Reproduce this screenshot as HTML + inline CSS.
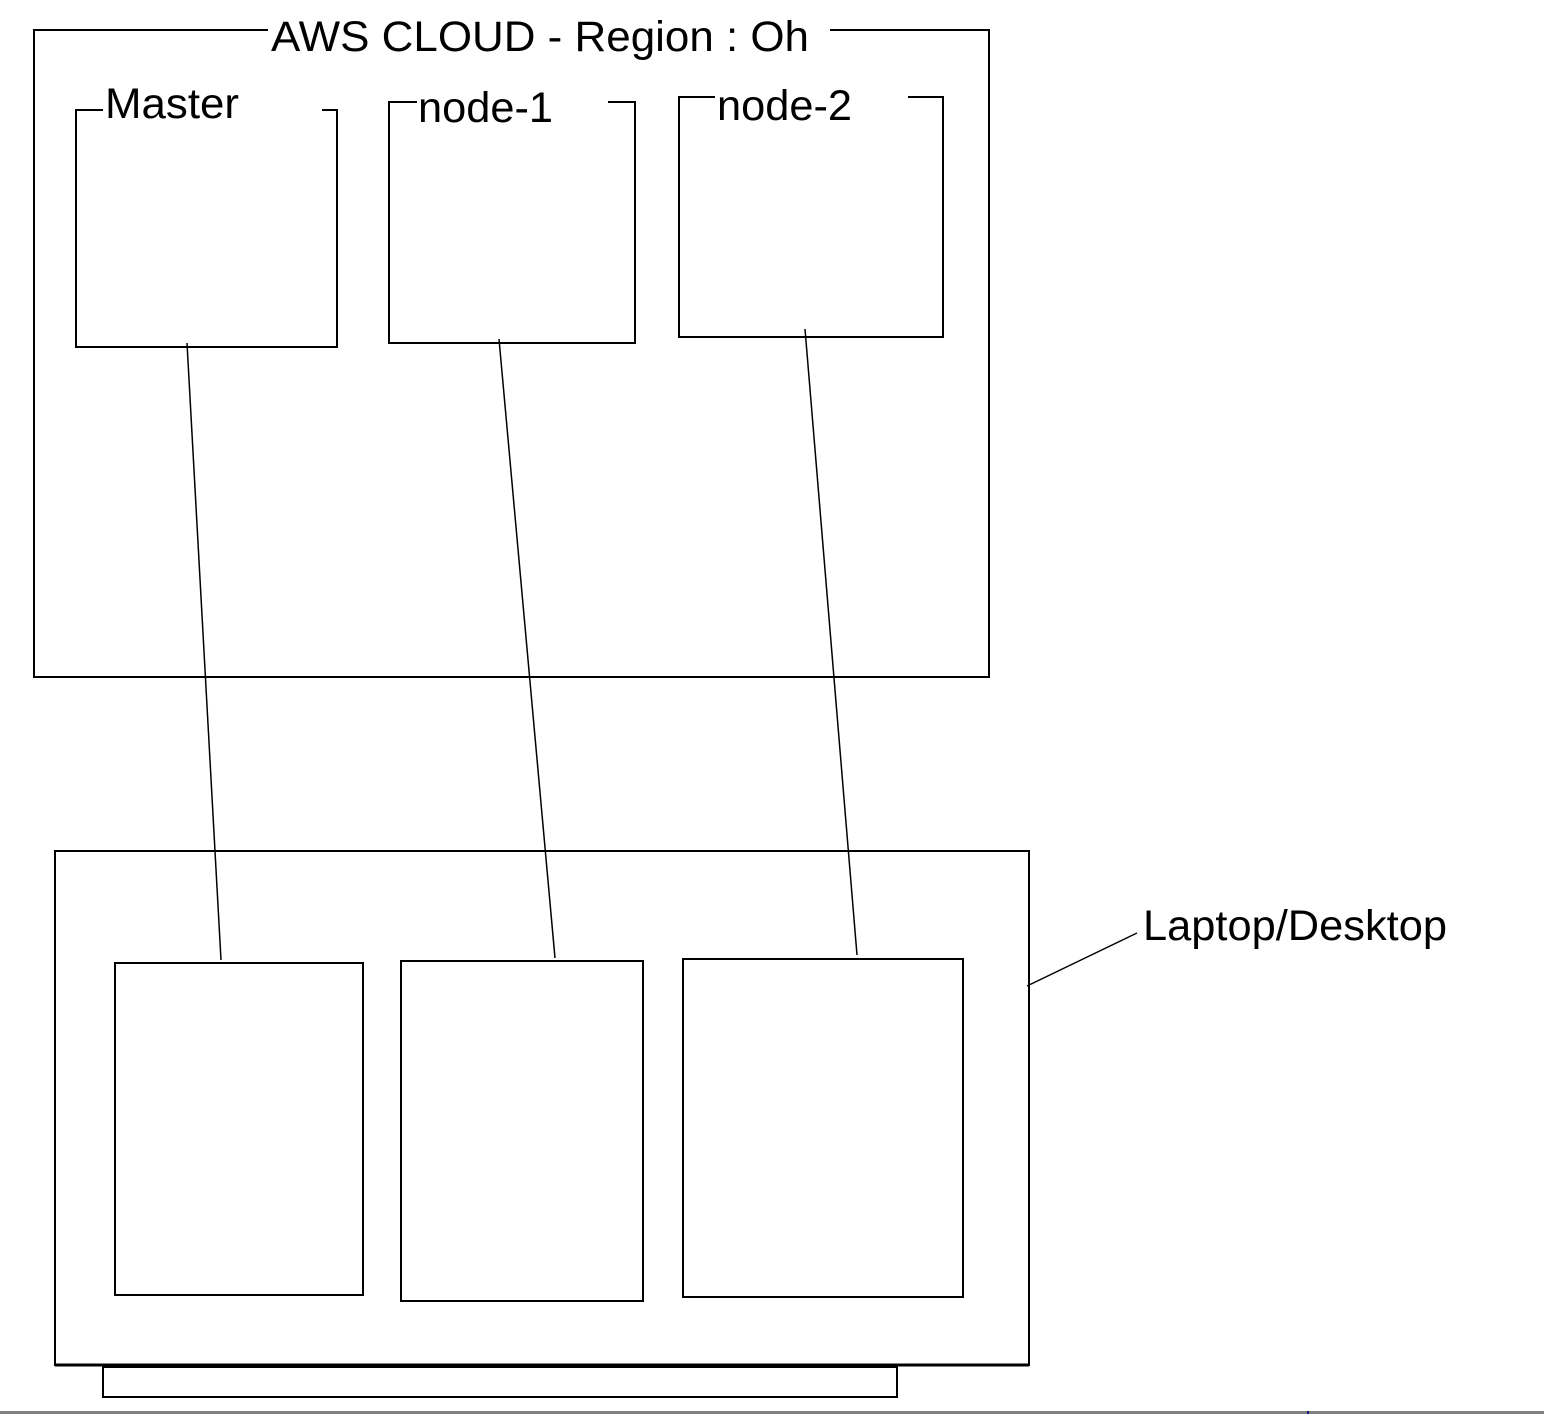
<!DOCTYPE html>
<html><head><style>html,body{margin:0;padding:0;background:#fff;}svg{display:block;}</style></head>
<body>
<svg width="1544" height="1414" xmlns="http://www.w3.org/2000/svg" font-family="Liberation Sans, Arial, sans-serif" font-size="43">
<g fill="none" stroke="#000" stroke-width="2">
<!-- AWS box -->
<polyline points="268,30 34,30 34,677 989,677 989,30 830,30"/>
<!-- Master -->
<polyline points="103,110 76,110 76,347 337,347 337,110 322,110"/>
<!-- node-1 -->
<polyline points="417,102 389,102 389,343 635,343 635,102 608,102"/>
<!-- node-2 -->
<polyline points="715,97 679,97 679,337 943,337 943,97 908,97"/>
<!-- laptop -->
<rect x="55" y="851" width="974" height="514"/>
<line x1="55" y1="1365" x2="1029" y2="1365" stroke-width="3"/>
<rect x="103" y="1367" width="794" height="30"/>
<rect x="115" y="963" width="248" height="332"/>
<rect x="401" y="961" width="242" height="340"/>
<rect x="683" y="959" width="280" height="338"/>
<line x1="187" y1="343" x2="221" y2="960" stroke-width="1.5"/>
<line x1="499" y1="339" x2="555" y2="958" stroke-width="1.5"/>
<line x1="805" y1="329" x2="857" y2="955" stroke-width="1.5"/>
<line x1="1027" y1="986" x2="1137" y2="933" stroke-width="1.5"/>
</g>
<g fill="#000">
<text x="271" y="51" textLength="538" lengthAdjust="spacingAndGlyphs">AWS CLOUD - Region : Oh</text>
<text x="105" y="118" textLength="134" lengthAdjust="spacingAndGlyphs">Master</text>
<text x="418" y="122" textLength="135" lengthAdjust="spacingAndGlyphs">node-1</text>
<text x="717" y="120" textLength="135" lengthAdjust="spacingAndGlyphs">node-2</text>
<text x="1143" y="940" textLength="304" lengthAdjust="spacingAndGlyphs">Laptop/Desktop</text>
</g>
<rect x="0" y="1411" width="1544" height="3" fill="#808080"/>
<rect x="1307" y="1411" width="2" height="3" fill="#1a1a8a"/>
</svg>
</body></html>
